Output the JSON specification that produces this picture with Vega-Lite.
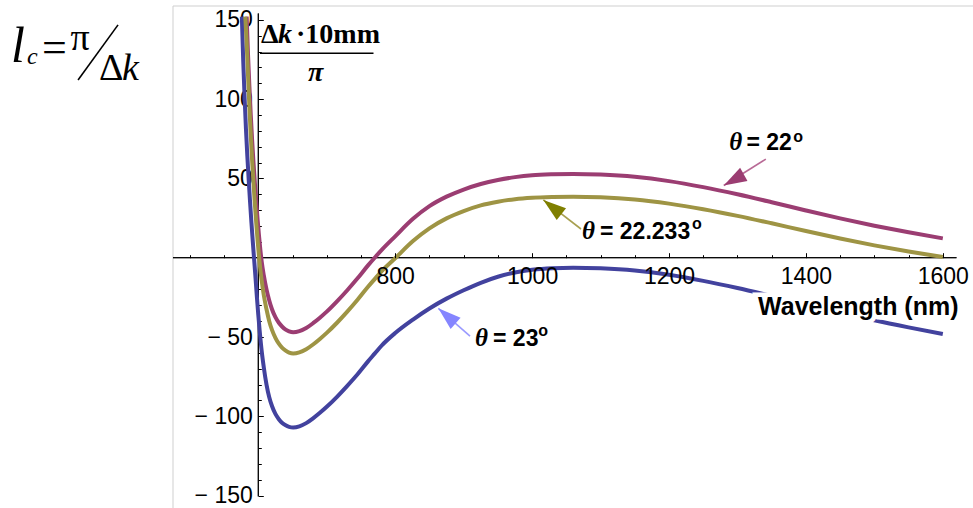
{
  "$schema": "https://vega.github.io/schema/vega-lite/v6.json",
  "width": 800,
  "height": 502,
  "autosize": {"type": "none"},
  "padding": {"left": 173, "top": 6, "right": 0, "bottom": 0},
  "background": "white",
  "config": {"view": {"stroke": null}},
  "datasets": {
    "curves": [
      {"theta": "23", "lambda": 576, "dk": 152}, {"theta": "23", "lambda": 578, "dk": 124}, {"theta": "23", "lambda": 580, "dk": 101},
      {"theta": "23", "lambda": 582, "dk": 81}, {"theta": "23", "lambda": 584, "dk": 64}, {"theta": "23", "lambda": 586, "dk": 49},
      {"theta": "23", "lambda": 588, "dk": 35}, {"theta": "23", "lambda": 590, "dk": 22}, {"theta": "23", "lambda": 592, "dk": 10},
      {"theta": "23", "lambda": 594, "dk": -1.5}, {"theta": "23", "lambda": 596, "dk": -13}, {"theta": "23", "lambda": 598, "dk": -25},
      {"theta": "23", "lambda": 600, "dk": -36}, {"theta": "23", "lambda": 602, "dk": -46}, {"theta": "23", "lambda": 605, "dk": -59},
      {"theta": "23", "lambda": 608, "dk": -69}, {"theta": "23", "lambda": 612, "dk": -80}, {"theta": "23", "lambda": 616, "dk": -88},
      {"theta": "23", "lambda": 620, "dk": -93.5}, {"theta": "23", "lambda": 625, "dk": -98.5}, {"theta": "23", "lambda": 630, "dk": -101.8},
      {"theta": "23", "lambda": 635, "dk": -104.2}, {"theta": "23", "lambda": 640, "dk": -105.7}, {"theta": "23", "lambda": 645, "dk": -106.6},
      {"theta": "23", "lambda": 651, "dk": -107}, {"theta": "23", "lambda": 660, "dk": -106.3}, {"theta": "23", "lambda": 670, "dk": -104.3},
      {"theta": "23", "lambda": 680, "dk": -101.3}, {"theta": "23", "lambda": 690, "dk": -97.8}, {"theta": "23", "lambda": 700, "dk": -94},
      {"theta": "23", "lambda": 715, "dk": -87.7}, {"theta": "23", "lambda": 730, "dk": -80.8}, {"theta": "23", "lambda": 745, "dk": -73.5},
      {"theta": "23", "lambda": 760, "dk": -65.5}, {"theta": "23", "lambda": 770, "dk": -60.5}, {"theta": "23", "lambda": 780, "dk": -55.5},
      {"theta": "23", "lambda": 800, "dk": -47.5}, {"theta": "23", "lambda": 826, "dk": -39}, {"theta": "23", "lambda": 850, "dk": -32},
      {"theta": "23", "lambda": 875, "dk": -25.8}, {"theta": "23", "lambda": 900, "dk": -20.5}, {"theta": "23", "lambda": 925, "dk": -15.8},
      {"theta": "23", "lambda": 950, "dk": -12}, {"theta": "23", "lambda": 975, "dk": -9.3}, {"theta": "23", "lambda": 1000, "dk": -7.6},
      {"theta": "23", "lambda": 1030, "dk": -6.6}, {"theta": "23", "lambda": 1060, "dk": -6.3}, {"theta": "23", "lambda": 1100, "dk": -6.7},
      {"theta": "23", "lambda": 1150, "dk": -8.1}, {"theta": "23", "lambda": 1200, "dk": -10.8}, {"theta": "23", "lambda": 1250, "dk": -14.6},
      {"theta": "23", "lambda": 1300, "dk": -19.1}, {"theta": "23", "lambda": 1350, "dk": -24.1}, {"theta": "23", "lambda": 1400, "dk": -29.2},
      {"theta": "23", "lambda": 1450, "dk": -34.4}, {"theta": "23", "lambda": 1500, "dk": -39.4}, {"theta": "23", "lambda": 1550, "dk": -43.9},
      {"theta": "23", "lambda": 1600, "dk": -48.1},

      {"theta": "22", "lambda": 583, "dk": 152}, {"theta": "22", "lambda": 585, "dk": 128}, {"theta": "22", "lambda": 587, "dk": 108},
      {"theta": "22", "lambda": 589, "dk": 90}, {"theta": "22", "lambda": 591, "dk": 74}, {"theta": "22", "lambda": 593, "dk": 60},
      {"theta": "22", "lambda": 595, "dk": 47}, {"theta": "22", "lambda": 597, "dk": 35}, {"theta": "22", "lambda": 599, "dk": 24},
      {"theta": "22", "lambda": 601, "dk": 14}, {"theta": "22", "lambda": 603, "dk": 5}, {"theta": "22", "lambda": 605, "dk": -2.5},
      {"theta": "22", "lambda": 608, "dk": -11}, {"theta": "22", "lambda": 612, "dk": -20}, {"theta": "22", "lambda": 616, "dk": -27},
      {"theta": "22", "lambda": 620, "dk": -32.5}, {"theta": "22", "lambda": 625, "dk": -37.5}, {"theta": "22", "lambda": 630, "dk": -41},
      {"theta": "22", "lambda": 635, "dk": -43.5}, {"theta": "22", "lambda": 640, "dk": -45.3}, {"theta": "22", "lambda": 645, "dk": -46.4},
      {"theta": "22", "lambda": 651, "dk": -47}, {"theta": "22", "lambda": 660, "dk": -46.3}, {"theta": "22", "lambda": 670, "dk": -44.3},
      {"theta": "22", "lambda": 680, "dk": -41.3}, {"theta": "22", "lambda": 690, "dk": -37.8}, {"theta": "22", "lambda": 700, "dk": -34},
      {"theta": "22", "lambda": 715, "dk": -27.5}, {"theta": "22", "lambda": 730, "dk": -20.5}, {"theta": "22", "lambda": 745, "dk": -13},
      {"theta": "22", "lambda": 760, "dk": -5}, {"theta": "22", "lambda": 770, "dk": 0}, {"theta": "22", "lambda": 780, "dk": 4.8},
      {"theta": "22", "lambda": 800, "dk": 13.5}, {"theta": "22", "lambda": 826, "dk": 24.5}, {"theta": "22", "lambda": 850, "dk": 32.5},
      {"theta": "22", "lambda": 875, "dk": 38.5}, {"theta": "22", "lambda": 900, "dk": 43}, {"theta": "22", "lambda": 925, "dk": 46.5},
      {"theta": "22", "lambda": 950, "dk": 49}, {"theta": "22", "lambda": 975, "dk": 50.8}, {"theta": "22", "lambda": 1000, "dk": 52},
      {"theta": "22", "lambda": 1030, "dk": 52.6}, {"theta": "22", "lambda": 1060, "dk": 52.8}, {"theta": "22", "lambda": 1100, "dk": 52.4},
      {"theta": "22", "lambda": 1150, "dk": 51}, {"theta": "22", "lambda": 1200, "dk": 48.3}, {"theta": "22", "lambda": 1250, "dk": 44.5},
      {"theta": "22", "lambda": 1300, "dk": 40}, {"theta": "22", "lambda": 1350, "dk": 35}, {"theta": "22", "lambda": 1400, "dk": 29.8},
      {"theta": "22", "lambda": 1450, "dk": 24.8}, {"theta": "22", "lambda": 1500, "dk": 20.2}, {"theta": "22", "lambda": 1550, "dk": 16},
      {"theta": "22", "lambda": 1600, "dk": 12.2},

      {"theta": "22.233", "lambda": 581, "dk": 152}, {"theta": "22.233", "lambda": 583, "dk": 136}, {"theta": "22.233", "lambda": 585, "dk": 115},
      {"theta": "22.233", "lambda": 587, "dk": 95}, {"theta": "22.233", "lambda": 589, "dk": 77}, {"theta": "22.233", "lambda": 591, "dk": 61},
      {"theta": "22.233", "lambda": 593, "dk": 47}, {"theta": "22.233", "lambda": 595, "dk": 34}, {"theta": "22.233", "lambda": 597, "dk": 22},
      {"theta": "22.233", "lambda": 599, "dk": 11}, {"theta": "22.233", "lambda": 601, "dk": 1}, {"theta": "22.233", "lambda": 603, "dk": -7.5},
      {"theta": "22.233", "lambda": 605, "dk": -14.5}, {"theta": "22.233", "lambda": 608, "dk": -23.5}, {"theta": "22.233", "lambda": 612, "dk": -32.5},
      {"theta": "22.233", "lambda": 616, "dk": -40}, {"theta": "22.233", "lambda": 620, "dk": -45.5}, {"theta": "22.233", "lambda": 625, "dk": -50.5},
      {"theta": "22.233", "lambda": 630, "dk": -54.2}, {"theta": "22.233", "lambda": 635, "dk": -56.8}, {"theta": "22.233", "lambda": 640, "dk": -58.6},
      {"theta": "22.233", "lambda": 645, "dk": -59.8}, {"theta": "22.233", "lambda": 651, "dk": -60.4}, {"theta": "22.233", "lambda": 660, "dk": -59.7},
      {"theta": "22.233", "lambda": 670, "dk": -57.7}, {"theta": "22.233", "lambda": 680, "dk": -54.7}, {"theta": "22.233", "lambda": 690, "dk": -51.2},
      {"theta": "22.233", "lambda": 700, "dk": -47.4}, {"theta": "22.233", "lambda": 715, "dk": -41}, {"theta": "22.233", "lambda": 730, "dk": -34},
      {"theta": "22.233", "lambda": 745, "dk": -26.5}, {"theta": "22.233", "lambda": 760, "dk": -18.5}, {"theta": "22.233", "lambda": 770, "dk": -13.5},
      {"theta": "22.233", "lambda": 780, "dk": -8.6}, {"theta": "22.233", "lambda": 800, "dk": -0.3}, {"theta": "22.233", "lambda": 826, "dk": 10.5},
      {"theta": "22.233", "lambda": 850, "dk": 18.5}, {"theta": "22.233", "lambda": 875, "dk": 24.8}, {"theta": "22.233", "lambda": 900, "dk": 29.4},
      {"theta": "22.233", "lambda": 925, "dk": 33}, {"theta": "22.233", "lambda": 950, "dk": 35.3}, {"theta": "22.233", "lambda": 975, "dk": 36.9},
      {"theta": "22.233", "lambda": 1000, "dk": 37.8}, {"theta": "22.233", "lambda": 1030, "dk": 38.3}, {"theta": "22.233", "lambda": 1060, "dk": 38.5},
      {"theta": "22.233", "lambda": 1100, "dk": 38.1}, {"theta": "22.233", "lambda": 1150, "dk": 36.7}, {"theta": "22.233", "lambda": 1200, "dk": 34.1},
      {"theta": "22.233", "lambda": 1250, "dk": 30.6}, {"theta": "22.233", "lambda": 1300, "dk": 26.4}, {"theta": "22.233", "lambda": 1350, "dk": 21.7},
      {"theta": "22.233", "lambda": 1400, "dk": 16.8}, {"theta": "22.233", "lambda": 1450, "dk": 12.1}, {"theta": "22.233", "lambda": 1500, "dk": 7.8},
      {"theta": "22.233", "lambda": 1550, "dk": 3.9}, {"theta": "22.233", "lambda": 1600, "dk": 0.4}
    ],
    "frame": [
      {"lambda": 475.4, "lambda2": 475.4, "dk": -157.8, "dk2": 158.7},
      {"lambda": 475.4, "lambda2": 1644.1, "dk": 158.7, "dk2": 158.7}
    ],
    "axislines": [
      {"lambda": 475.4, "lambda2": 1620, "dk": 0, "dk2": 0},
      {"lambda": 600, "lambda2": 600, "dk": -150.5, "dk2": 154}
    ],
    "strokes": [
      {"lambda": 602.5, "lambda2": 768.3, "dk": 128.9, "dk2": 128.9},
      {"lambda": 336.7, "lambda2": 395.1, "dk": 112.0, "dk2": 146.8}
    ],
    "arrows": [
      {"theta": "22", "lambda": 1341.5, "dk": 62.2, "lambda2": 1280, "dk2": 45.5},
      {"theta": "22.233", "lambda": 1071.4, "dk": 18.1, "lambda2": 1016.4, "dk2": 36.4},
      {"theta": "23", "lambda": 909.3, "dk": -49.4, "lambda2": 863, "dk2": -31.9}
    ],
    "thetas": [
      {"lambda": 1288, "dk": 67.9, "text": "θ"},
      {"lambda": 1072.9, "dk": 11.6, "text": "θ"},
      {"lambda": 916.6, "dk": -55.7, "text": "θ"}
    ],
    "sansbold": [
      {"lambda": 1313.2, "dk": 67.9, "text": "= 22"},
      {"lambda": 1099.2, "dk": 11.6, "text": "= 22.233"},
      {"lambda": 942.9, "dk": -55.7, "text": "= 23"}
    ],
    "xtitle": [
      {"lambda": 1330.1, "dk": -36.1, "text": "Wavelength (nm)"}
    ],
    "sups": [
      {"lambda": 1381.5, "dk": 73, "text": "o"},
      {"lambda": 1233.5, "dk": 17.8, "text": "o"},
      {"lambda": 1009, "dk": -49.4, "text": "o"}
    ],
    "ytitle_bold": [
      {"lambda": 604, "dk": 135.4, "text": "Δ"},
      {"lambda": 655.1, "dk": 135.4, "text": "·10mm"}
    ],
    "ytitle_italic": [
      {"lambda": 628.8, "dk": 135.4, "text": "k"},
      {"lambda": 672.6, "dk": 111.4, "text": "π"}
    ],
    "f_l": [{"lambda": 238.7, "dk": 123.4, "text": "l"}],
    "f_c": [{"lambda": 262.1, "dk": 122.1, "text": "c"}],
    "f_eq": [{"lambda": 284, "dk": 123.5, "text": "="}],
    "f_reg": [{"lambda": 367.4, "dk": 112.0, "text": "Δ"}],
    "f_pi": [{"lambda": 325.5, "dk": 131.0, "text": "π"}],
    "f_k": [{"lambda": 400.9, "dk": 112.0, "text": "k"}]
  },
  "encoding": {
    "x": {"field": "lambda", "type": "quantitative", "scale": {"domain": [475.4, 1644.1], "nice": false, "zero": false}, "axis": null},
    "y": {"field": "dk", "type": "quantitative", "scale": {"domain": [-157.8, 158.7], "nice": false, "zero": false}, "axis": null}
  },
  "layer": [
    {
      "data": {"name": "frame"},
      "mark": {"type": "rule", "color": "#cfcfcf", "strokeWidth": 1},
      "encoding": {"x2": {"field": "lambda2"}, "y2": {"field": "dk2"}}
    },
    {
      "data": {"name": "axislines"},
      "mark": {"type": "rule", "color": "black", "strokeWidth": 1},
      "encoding": {
        "x": {"field": "lambda", "type": "quantitative", "scale": {"domain": [475.4, 1644.1], "nice": false, "zero": false},
          "axis": {"orient": "bottom", "offset": -250.3, "values": [800, 1000, 1200, 1400, 1600], "domain": false, "grid": false,
            "tickSize": -5, "tickColor": "black", "tickWidth": 1, "labelFont": "Liberation Sans", "labelFontSize": 23,
            "labelColor": "black", "labelPadding": 13, "labelFlush": false, "labelOverlap": false, "labelBound": false,
            "title": null, "zindex": 1, "format": "d"}},
        "y": {"field": "dk", "type": "quantitative", "scale": {"domain": [-157.8, 158.7], "nice": false, "zero": false},
          "axis": {"orient": "left", "offset": -85.3, "values": [-150, -100, -50, 50, 100, 150], "domain": false, "grid": false,
            "tickSize": -5, "tickColor": "black", "tickWidth": 1, "labelFont": "Liberation Sans", "labelFontSize": 23,
            "labelColor": "black", "labelPadding": 11, "labelFlush": false, "labelOverlap": false, "labelBound": false,
            "labelExpr": "datum.value < 0 ? '− ' + format(-datum.value, 'd') : datum.label",
            "title": null, "zindex": 0, "format": "d"}},
        "x2": {"field": "lambda2"}, "y2": {"field": "dk2"}
      }
    },
    {
      "data": {"name": "axislines"},
      "mark": {"type": "rule", "color": "black", "strokeWidth": 1},
      "encoding": {
        "x": {"field": "lambda", "type": "quantitative", "scale": {"domain": [475.4, 1644.1], "nice": false, "zero": false},
          "axis": {"orient": "bottom", "offset": -250.3, "values": [500, 550, 650, 700, 750, 850, 900, 950, 1050, 1100, 1150, 1250, 1300, 1350, 1450, 1500, 1550],
            "domain": false, "grid": false, "labels": false, "tickSize": -3, "tickColor": "black", "tickWidth": 1, "title": null, "zindex": 1}},
        "y": {"field": "dk", "type": "quantitative", "scale": {"domain": [-157.8, 158.7], "nice": false, "zero": false},
          "axis": {"orient": "left", "offset": -85.3, "values": [-140, -130, -120, -110, -90, -80, -70, -60, -40, -30, -20, -10, 10, 20, 30, 40, 60, 70, 80, 90, 110, 120, 130, 140],
            "domain": false, "grid": false, "labels": false, "tickSize": -3, "tickColor": "black", "tickWidth": 1, "title": null, "zindex": 0}},
        "x2": {"field": "lambda2"}, "y2": {"field": "dk2"}
      }
    },
    {
      "data": {"name": "curves"},
      "mark": {"type": "line", "strokeWidth": 4, "interpolate": "monotone"},
      "encoding": {
        "color": {"field": "theta", "type": "nominal", "legend": null,
          "scale": {"domain": ["23", "22", "22.233"], "range": ["#42429e", "#9b3d72", "#9e9444"]}},
        "detail": {"field": "theta"}
      }
    },
    {
      "data": {"name": "arrows"},
      "mark": {"type": "rule", "strokeWidth": 1.6},
      "encoding": {
        "x2": {"field": "lambda2"}, "y2": {"field": "dk2"},
        "stroke": {"field": "theta", "type": "nominal", "legend": null,
          "scale": {"domain": ["23", "22", "22.233"], "range": ["#9a9aff", "#b86a96", "#a8a050"]}}
      }
    },
    {
      "data": {"name": "arrows"},
      "transform": [{"filter": "datum.theta == '22'"}],
      "mark": {"type": "point", "shape": "M0,0L-0.33,1L0.33,1Z", "filled": true, "size": 2100, "angle": 241, "color": "#9b3d72", "opacity": 1, "strokeWidth": 0},
      "encoding": {"x": {"field": "lambda2", "type": "quantitative"}, "y": {"field": "dk2", "type": "quantitative"}}
    },
    {
      "data": {"name": "arrows"},
      "transform": [{"filter": "datum.theta == '22.233'"}],
      "mark": {"type": "point", "shape": "M0,0L-0.33,1L0.33,1Z", "filled": true, "size": 2100, "angle": 308, "color": "#7f7f00", "opacity": 1, "strokeWidth": 0},
      "encoding": {"x": {"field": "lambda2", "type": "quantitative"}, "y": {"field": "dk2", "type": "quantitative"}}
    },
    {
      "data": {"name": "arrows"},
      "transform": [{"filter": "datum.theta == '23'"}],
      "mark": {"type": "point", "shape": "M0,0L-0.33,1L0.33,1Z", "filled": true, "size": 2100, "angle": 311, "color": "#8585ff", "opacity": 1, "strokeWidth": 0},
      "encoding": {"x": {"field": "lambda2", "type": "quantitative"}, "y": {"field": "dk2", "type": "quantitative"}}
    },
    {
      "data": {"name": "strokes"},
      "mark": {"type": "rule", "color": "black", "strokeWidth": 1.6},
      "encoding": {"x2": {"field": "lambda2"}, "y2": {"field": "dk2"}}
    },
    {
      "data": {"name": "xtitle"},
      "mark": {"type": "text", "align": "left", "baseline": "alphabetic", "font": "Liberation Sans", "fontWeight": "bold", "fontSize": 25, "color": "white", "stroke": "white", "strokeWidth": 9},
      "encoding": {"text": {"field": "text"}}
    },
    {
      "data": {"name": "xtitle"},
      "mark": {"type": "text", "align": "left", "baseline": "alphabetic", "font": "Liberation Sans", "fontWeight": "bold", "fontSize": 25, "color": "black"},
      "encoding": {"text": {"field": "text"}}
    },
    {
      "data": {"name": "sansbold"},
      "mark": {"type": "text", "align": "left", "baseline": "alphabetic", "font": "Liberation Sans", "fontWeight": "bold", "fontSize": 23, "color": "black"},
      "encoding": {"text": {"field": "text"}}
    },
    {
      "data": {"name": "thetas"},
      "mark": {"type": "text", "align": "left", "baseline": "alphabetic", "font": "Liberation Serif", "fontStyle": "italic", "fontWeight": "bold", "fontSize": 25, "color": "black"},
      "encoding": {"text": {"field": "text"}}
    },
    {
      "data": {"name": "sups"},
      "mark": {"type": "text", "align": "left", "baseline": "alphabetic", "font": "Liberation Sans", "fontWeight": "bold", "fontSize": 16, "color": "black"},
      "encoding": {"text": {"field": "text"}}
    },
    {
      "data": {"name": "ytitle_bold"},
      "mark": {"type": "text", "align": "left", "baseline": "alphabetic", "font": "Liberation Serif", "fontWeight": "bold", "fontSize": 28, "color": "black"},
      "encoding": {"text": {"field": "text"}}
    },
    {
      "data": {"name": "ytitle_italic"},
      "mark": {"type": "text", "align": "left", "baseline": "alphabetic", "font": "Liberation Serif", "fontWeight": "bold", "fontStyle": "italic", "fontSize": 28, "color": "black"},
      "encoding": {"text": {"field": "text"}}
    },
    {
      "data": {"name": "f_l"},
      "mark": {"type": "text", "align": "left", "baseline": "alphabetic", "font": "Liberation Serif", "fontStyle": "italic", "fontSize": 50, "color": "black"},
      "encoding": {"text": {"field": "text"}}
    },
    {
      "data": {"name": "f_c"},
      "mark": {"type": "text", "align": "left", "baseline": "alphabetic", "font": "Liberation Serif", "fontStyle": "italic", "fontSize": 24, "color": "black"},
      "encoding": {"text": {"field": "text"}}
    },
    {
      "data": {"name": "f_eq"},
      "mark": {"type": "text", "align": "left", "baseline": "alphabetic", "font": "Liberation Serif", "fontSize": 44, "color": "black"},
      "encoding": {"text": {"field": "text"}}
    },
    {
      "data": {"name": "f_reg"},
      "mark": {"type": "text", "align": "left", "baseline": "alphabetic", "font": "Liberation Serif", "fontSize": 38, "color": "black"},
      "encoding": {"text": {"field": "text"}}
    },
    {
      "data": {"name": "f_pi"},
      "mark": {"type": "text", "align": "left", "baseline": "alphabetic", "font": "Liberation Serif", "fontSize": 38, "color": "black"},
      "encoding": {"text": {"field": "text"}}
    },
    {
      "data": {"name": "f_k"},
      "mark": {"type": "text", "align": "left", "baseline": "alphabetic", "font": "Liberation Serif", "fontStyle": "italic", "fontSize": 38, "color": "black"},
      "encoding": {"text": {"field": "text"}}
    }
  ],
  "resolve": {"axis": {"x": "independent", "y": "independent"}}
}
